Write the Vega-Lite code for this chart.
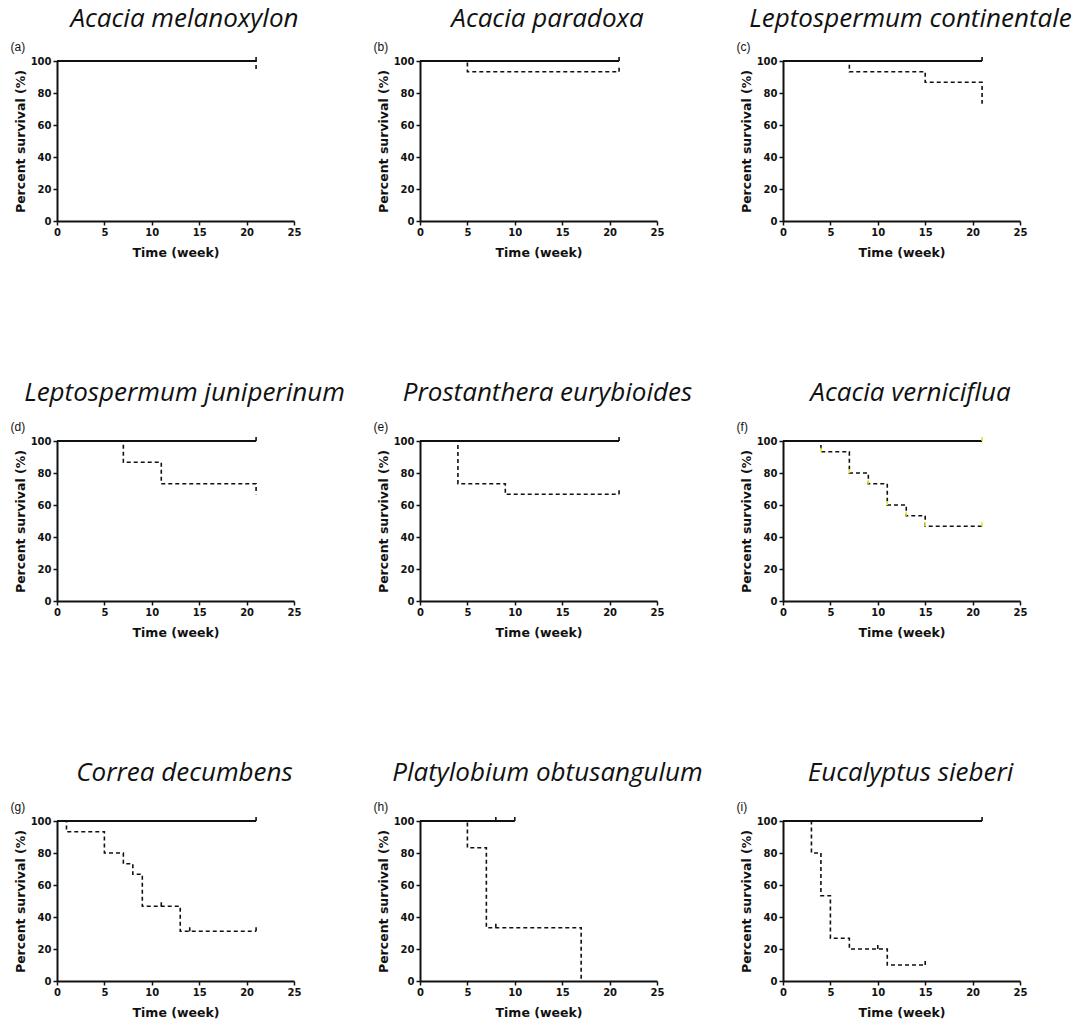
{
  "$schema": "https://vega.github.io/schema/vega-lite/v6.json",
  "background": "white",
  "padding": {"left": 10, "top": 5, "right": 5, "bottom": 5},
  "datasets": {
    "curves": [
      {"species": "Acacia melanoxylon", "group": "control", "t": 0, "s": 100},
      {"species": "Acacia melanoxylon", "group": "control", "t": 21, "s": 100},
      {"species": "Acacia melanoxylon", "group": "treated", "t": 0, "s": 100},
      {"species": "Acacia melanoxylon", "group": "treated", "t": 21, "s": 93.3},
      {"species": "Acacia paradoxa", "group": "control", "t": 0, "s": 100},
      {"species": "Acacia paradoxa", "group": "control", "t": 21, "s": 100},
      {"species": "Acacia paradoxa", "group": "treated", "t": 0, "s": 100},
      {"species": "Acacia paradoxa", "group": "treated", "t": 5, "s": 93.3},
      {"species": "Acacia paradoxa", "group": "treated", "t": 21, "s": 93.3},
      {"species": "Leptospermum continentale", "group": "control", "t": 0, "s": 100},
      {"species": "Leptospermum continentale", "group": "control", "t": 21, "s": 100},
      {"species": "Leptospermum continentale", "group": "treated", "t": 0, "s": 100},
      {"species": "Leptospermum continentale", "group": "treated", "t": 7, "s": 93.3},
      {"species": "Leptospermum continentale", "group": "treated", "t": 15, "s": 86.7},
      {"species": "Leptospermum continentale", "group": "treated", "t": 21, "s": 73.3},
      {"species": "Leptospermum juniperinum", "group": "control", "t": 0, "s": 100},
      {"species": "Leptospermum juniperinum", "group": "control", "t": 21, "s": 100},
      {"species": "Leptospermum juniperinum", "group": "treated", "t": 0, "s": 100},
      {"species": "Leptospermum juniperinum", "group": "treated", "t": 7, "s": 86.7},
      {"species": "Leptospermum juniperinum", "group": "treated", "t": 11, "s": 73.3},
      {"species": "Leptospermum juniperinum", "group": "treated", "t": 21, "s": 66.7},
      {"species": "Prostanthera eurybioides", "group": "control", "t": 0, "s": 100},
      {"species": "Prostanthera eurybioides", "group": "control", "t": 21, "s": 100},
      {"species": "Prostanthera eurybioides", "group": "treated", "t": 0, "s": 100},
      {"species": "Prostanthera eurybioides", "group": "treated", "t": 4, "s": 73.3},
      {"species": "Prostanthera eurybioides", "group": "treated", "t": 9, "s": 66.7},
      {"species": "Prostanthera eurybioides", "group": "treated", "t": 21, "s": 66.7},
      {"species": "Acacia verniciflua", "group": "control", "t": 0, "s": 100},
      {"species": "Acacia verniciflua", "group": "control", "t": 21, "s": 100},
      {"species": "Acacia verniciflua", "group": "treated", "t": 0, "s": 100},
      {"species": "Acacia verniciflua", "group": "treated", "t": 4, "s": 93.3},
      {"species": "Acacia verniciflua", "group": "treated", "t": 7, "s": 80},
      {"species": "Acacia verniciflua", "group": "treated", "t": 9, "s": 73.3},
      {"species": "Acacia verniciflua", "group": "treated", "t": 11, "s": 60},
      {"species": "Acacia verniciflua", "group": "treated", "t": 13, "s": 53.3},
      {"species": "Acacia verniciflua", "group": "treated", "t": 15, "s": 46.7},
      {"species": "Acacia verniciflua", "group": "treated", "t": 21, "s": 46.7},
      {"species": "Correa decumbens", "group": "control", "t": 0, "s": 100},
      {"species": "Correa decumbens", "group": "control", "t": 21, "s": 100},
      {"species": "Correa decumbens", "group": "treated", "t": 0, "s": 100},
      {"species": "Correa decumbens", "group": "treated", "t": 1, "s": 93.3},
      {"species": "Correa decumbens", "group": "treated", "t": 5, "s": 80},
      {"species": "Correa decumbens", "group": "treated", "t": 7, "s": 73.3},
      {"species": "Correa decumbens", "group": "treated", "t": 8, "s": 66.7},
      {"species": "Correa decumbens", "group": "treated", "t": 9, "s": 46.7},
      {"species": "Correa decumbens", "group": "treated", "t": 13, "s": 31.1},
      {"species": "Correa decumbens", "group": "treated", "t": 21, "s": 31.1},
      {"species": "Platylobium obtusangulum", "group": "control", "t": 0, "s": 100},
      {"species": "Platylobium obtusangulum", "group": "control", "t": 10, "s": 100},
      {"species": "Platylobium obtusangulum", "group": "treated", "t": 0, "s": 100},
      {"species": "Platylobium obtusangulum", "group": "treated", "t": 5, "s": 83.3},
      {"species": "Platylobium obtusangulum", "group": "treated", "t": 7, "s": 33.3},
      {"species": "Platylobium obtusangulum", "group": "treated", "t": 17, "s": 0},
      {"species": "Eucalyptus sieberi", "group": "control", "t": 0, "s": 100},
      {"species": "Eucalyptus sieberi", "group": "control", "t": 21, "s": 100},
      {"species": "Eucalyptus sieberi", "group": "treated", "t": 0, "s": 100},
      {"species": "Eucalyptus sieberi", "group": "treated", "t": 3, "s": 80},
      {"species": "Eucalyptus sieberi", "group": "treated", "t": 4, "s": 53.3},
      {"species": "Eucalyptus sieberi", "group": "treated", "t": 5, "s": 26.7},
      {"species": "Eucalyptus sieberi", "group": "treated", "t": 7, "s": 20},
      {"species": "Eucalyptus sieberi", "group": "treated", "t": 11, "s": 10},
      {"species": "Eucalyptus sieberi", "group": "treated", "t": 15, "s": 10}
    ],
    "censors": [
      {"species": "Acacia melanoxylon", "group": "control", "t": 21, "s": 100},
      {"species": "Acacia paradoxa", "group": "control", "t": 21, "s": 100},
      {"species": "Acacia paradoxa", "group": "treated", "t": 21, "s": 93.3},
      {"species": "Leptospermum continentale", "group": "control", "t": 21, "s": 100},
      {"species": "Leptospermum juniperinum", "group": "control", "t": 21, "s": 100},
      {"species": "Prostanthera eurybioides", "group": "control", "t": 21, "s": 100},
      {"species": "Prostanthera eurybioides", "group": "treated", "t": 21, "s": 66.7},
      {"species": "Acacia verniciflua", "group": "highlight", "t": 21, "s": 100},
      {"species": "Acacia verniciflua", "group": "highlight", "t": 4, "s": 93.3},
      {"species": "Acacia verniciflua", "group": "highlight", "t": 7, "s": 80},
      {"species": "Acacia verniciflua", "group": "highlight", "t": 9, "s": 73.3},
      {"species": "Acacia verniciflua", "group": "highlight", "t": 11, "s": 60},
      {"species": "Acacia verniciflua", "group": "highlight", "t": 13, "s": 53.3},
      {"species": "Acacia verniciflua", "group": "highlight", "t": 15, "s": 46.7},
      {"species": "Acacia verniciflua", "group": "highlight", "t": 21, "s": 46.7},
      {"species": "Correa decumbens", "group": "control", "t": 21, "s": 100},
      {"species": "Correa decumbens", "group": "treated", "t": 11, "s": 46.7},
      {"species": "Correa decumbens", "group": "treated", "t": 14, "s": 31.1},
      {"species": "Correa decumbens", "group": "treated", "t": 21, "s": 31.1},
      {"species": "Platylobium obtusangulum", "group": "control", "t": 8, "s": 100},
      {"species": "Platylobium obtusangulum", "group": "control", "t": 10, "s": 100},
      {"species": "Platylobium obtusangulum", "group": "treated", "t": 8, "s": 33.3},
      {"species": "Eucalyptus sieberi", "group": "control", "t": 21, "s": 100},
      {"species": "Eucalyptus sieberi", "group": "treated", "t": 10, "s": 20},
      {"species": "Eucalyptus sieberi", "group": "treated", "t": 15, "s": 10}
    ],
    "labels": [
      {"species": "Acacia melanoxylon", "letter": "(a)"},
      {"species": "Acacia paradoxa", "letter": "(b)"},
      {"species": "Leptospermum continentale", "letter": "(c)"},
      {"species": "Leptospermum juniperinum", "letter": "(d)"},
      {"species": "Prostanthera eurybioides", "letter": "(e)"},
      {"species": "Acacia verniciflua", "letter": "(f)"},
      {"species": "Correa decumbens", "letter": "(g)"},
      {"species": "Platylobium obtusangulum", "letter": "(h)"},
      {"species": "Eucalyptus sieberi", "letter": "(i)"}
    ]
  },
  "columns": 3,
  "bounds": "flush",
  "spacing": {"row": 220, "column": 126},
  "concat": [
    {"title": {"text": "Acacia melanoxylon", "offset": 9}, "width": 237, "height": 160,
     "layer": [
      {"encoding": {"x": {"field": "t", "type": "quantitative", "title": "Time (week)", "scale": {"domain": [0, 25], "nice": false}, "axis": {"values": [0, 5, 10, 15, 20, 25]}}, "y": {"field": "s", "type": "quantitative", "title": "Percent survival (%)", "scale": {"domain": [0, 100], "nice": false}, "axis": {"values": [0, 20, 40, 60, 80, 100]}}},
       "layer": [
        {"data": {"name": "curves"}, "transform": [{"filter": "datum.species === 'Acacia melanoxylon' && datum.group === 'control'"}], "mark": {"type": "line", "interpolate": "step-after", "color": "#111111", "strokeWidth": 2}},
        {"data": {"name": "curves"}, "transform": [{"filter": "datum.species === 'Acacia melanoxylon' && datum.group === 'treated'"}], "mark": {"type": "line", "interpolate": "step-after", "color": "#111111", "strokeWidth": 1.6, "strokeDash": [4, 3]}},
        {"data": {"name": "censors"}, "transform": [{"filter": "datum.species === 'Acacia melanoxylon'"}], "mark": {"type": "point", "shape": "M0,0L0,-1", "size": 64, "filled": false, "strokeWidth": 1.6, "opacity": 1}, "encoding": {"color": {"field": "group", "type": "nominal", "scale": {"domain": ["control", "treated", "highlight"], "range": ["#111111", "#111111", "#ece21a"]}, "legend": null}}}
       ]},
      {"data": {"name": "labels"}, "transform": [{"filter": "datum.species === 'Acacia melanoxylon'"}], "mark": {"type": "text", "align": "left", "baseline": "middle", "font": "Liberation Sans", "fontSize": 12, "color": "#111111"}, "encoding": {"x": {"datum": -4.9, "title": "Time (week)", "scale": {"domain": [0, 25], "nice": false}, "axis": {"values": [0, 5, 10, 15, 20, 25]}}, "y": {"datum": 109, "title": "Percent survival (%)", "scale": {"domain": [0, 100], "nice": false}, "axis": {"values": [0, 20, 40, 60, 80, 100]}}, "text": {"field": "letter"}}}
     ]},
    {"title": {"text": "Acacia paradoxa", "offset": 9}, "width": 237, "height": 160,
     "layer": [
      {"encoding": {"x": {"field": "t", "type": "quantitative", "title": "Time (week)", "scale": {"domain": [0, 25], "nice": false}, "axis": {"values": [0, 5, 10, 15, 20, 25]}}, "y": {"field": "s", "type": "quantitative", "title": "Percent survival (%)", "scale": {"domain": [0, 100], "nice": false}, "axis": {"values": [0, 20, 40, 60, 80, 100]}}},
       "layer": [
        {"data": {"name": "curves"}, "transform": [{"filter": "datum.species === 'Acacia paradoxa' && datum.group === 'control'"}], "mark": {"type": "line", "interpolate": "step-after", "color": "#111111", "strokeWidth": 2}},
        {"data": {"name": "curves"}, "transform": [{"filter": "datum.species === 'Acacia paradoxa' && datum.group === 'treated'"}], "mark": {"type": "line", "interpolate": "step-after", "color": "#111111", "strokeWidth": 1.6, "strokeDash": [4, 3]}},
        {"data": {"name": "censors"}, "transform": [{"filter": "datum.species === 'Acacia paradoxa'"}], "mark": {"type": "point", "shape": "M0,0L0,-1", "size": 64, "filled": false, "strokeWidth": 1.6, "opacity": 1}, "encoding": {"color": {"field": "group", "type": "nominal", "scale": {"domain": ["control", "treated", "highlight"], "range": ["#111111", "#111111", "#ece21a"]}, "legend": null}}}
       ]},
      {"data": {"name": "labels"}, "transform": [{"filter": "datum.species === 'Acacia paradoxa'"}], "mark": {"type": "text", "align": "left", "baseline": "middle", "font": "Liberation Sans", "fontSize": 12, "color": "#111111"}, "encoding": {"x": {"datum": -4.9, "title": "Time (week)", "scale": {"domain": [0, 25], "nice": false}, "axis": {"values": [0, 5, 10, 15, 20, 25]}}, "y": {"datum": 109, "title": "Percent survival (%)", "scale": {"domain": [0, 100], "nice": false}, "axis": {"values": [0, 20, 40, 60, 80, 100]}}, "text": {"field": "letter"}}}
     ]},
    {"title": {"text": "Leptospermum continentale", "offset": 9}, "width": 237, "height": 160,
     "layer": [
      {"encoding": {"x": {"field": "t", "type": "quantitative", "title": "Time (week)", "scale": {"domain": [0, 25], "nice": false}, "axis": {"values": [0, 5, 10, 15, 20, 25]}}, "y": {"field": "s", "type": "quantitative", "title": "Percent survival (%)", "scale": {"domain": [0, 100], "nice": false}, "axis": {"values": [0, 20, 40, 60, 80, 100]}}},
       "layer": [
        {"data": {"name": "curves"}, "transform": [{"filter": "datum.species === 'Leptospermum continentale' && datum.group === 'control'"}], "mark": {"type": "line", "interpolate": "step-after", "color": "#111111", "strokeWidth": 2}},
        {"data": {"name": "curves"}, "transform": [{"filter": "datum.species === 'Leptospermum continentale' && datum.group === 'treated'"}], "mark": {"type": "line", "interpolate": "step-after", "color": "#111111", "strokeWidth": 1.6, "strokeDash": [4, 3]}},
        {"data": {"name": "censors"}, "transform": [{"filter": "datum.species === 'Leptospermum continentale'"}], "mark": {"type": "point", "shape": "M0,0L0,-1", "size": 64, "filled": false, "strokeWidth": 1.6, "opacity": 1}, "encoding": {"color": {"field": "group", "type": "nominal", "scale": {"domain": ["control", "treated", "highlight"], "range": ["#111111", "#111111", "#ece21a"]}, "legend": null}}}
       ]},
      {"data": {"name": "labels"}, "transform": [{"filter": "datum.species === 'Leptospermum continentale'"}], "mark": {"type": "text", "align": "left", "baseline": "middle", "font": "Liberation Sans", "fontSize": 12, "color": "#111111"}, "encoding": {"x": {"datum": -4.9, "title": "Time (week)", "scale": {"domain": [0, 25], "nice": false}, "axis": {"values": [0, 5, 10, 15, 20, 25]}}, "y": {"datum": 109, "title": "Percent survival (%)", "scale": {"domain": [0, 100], "nice": false}, "axis": {"values": [0, 20, 40, 60, 80, 100]}}, "text": {"field": "letter"}}}
     ]},
    {"title": {"text": "Leptospermum juniperinum", "offset": 15}, "width": 237, "height": 160,
     "layer": [
      {"encoding": {"x": {"field": "t", "type": "quantitative", "title": "Time (week)", "scale": {"domain": [0, 25], "nice": false}, "axis": {"values": [0, 5, 10, 15, 20, 25]}}, "y": {"field": "s", "type": "quantitative", "title": "Percent survival (%)", "scale": {"domain": [0, 100], "nice": false}, "axis": {"values": [0, 20, 40, 60, 80, 100]}}},
       "layer": [
        {"data": {"name": "curves"}, "transform": [{"filter": "datum.species === 'Leptospermum juniperinum' && datum.group === 'control'"}], "mark": {"type": "line", "interpolate": "step-after", "color": "#111111", "strokeWidth": 2}},
        {"data": {"name": "curves"}, "transform": [{"filter": "datum.species === 'Leptospermum juniperinum' && datum.group === 'treated'"}], "mark": {"type": "line", "interpolate": "step-after", "color": "#111111", "strokeWidth": 1.6, "strokeDash": [4, 3]}},
        {"data": {"name": "censors"}, "transform": [{"filter": "datum.species === 'Leptospermum juniperinum'"}], "mark": {"type": "point", "shape": "M0,0L0,-1", "size": 64, "filled": false, "strokeWidth": 1.6, "opacity": 1}, "encoding": {"color": {"field": "group", "type": "nominal", "scale": {"domain": ["control", "treated", "highlight"], "range": ["#111111", "#111111", "#ece21a"]}, "legend": null}}}
       ]},
      {"data": {"name": "labels"}, "transform": [{"filter": "datum.species === 'Leptospermum juniperinum'"}], "mark": {"type": "text", "align": "left", "baseline": "middle", "font": "Liberation Sans", "fontSize": 12, "color": "#111111"}, "encoding": {"x": {"datum": -4.9, "title": "Time (week)", "scale": {"domain": [0, 25], "nice": false}, "axis": {"values": [0, 5, 10, 15, 20, 25]}}, "y": {"datum": 109, "title": "Percent survival (%)", "scale": {"domain": [0, 100], "nice": false}, "axis": {"values": [0, 20, 40, 60, 80, 100]}}, "text": {"field": "letter"}}}
     ]},
    {"title": {"text": "Prostanthera eurybioides", "offset": 15}, "width": 237, "height": 160,
     "layer": [
      {"encoding": {"x": {"field": "t", "type": "quantitative", "title": "Time (week)", "scale": {"domain": [0, 25], "nice": false}, "axis": {"values": [0, 5, 10, 15, 20, 25]}}, "y": {"field": "s", "type": "quantitative", "title": "Percent survival (%)", "scale": {"domain": [0, 100], "nice": false}, "axis": {"values": [0, 20, 40, 60, 80, 100]}}},
       "layer": [
        {"data": {"name": "curves"}, "transform": [{"filter": "datum.species === 'Prostanthera eurybioides' && datum.group === 'control'"}], "mark": {"type": "line", "interpolate": "step-after", "color": "#111111", "strokeWidth": 2}},
        {"data": {"name": "curves"}, "transform": [{"filter": "datum.species === 'Prostanthera eurybioides' && datum.group === 'treated'"}], "mark": {"type": "line", "interpolate": "step-after", "color": "#111111", "strokeWidth": 1.6, "strokeDash": [4, 3]}},
        {"data": {"name": "censors"}, "transform": [{"filter": "datum.species === 'Prostanthera eurybioides'"}], "mark": {"type": "point", "shape": "M0,0L0,-1", "size": 64, "filled": false, "strokeWidth": 1.6, "opacity": 1}, "encoding": {"color": {"field": "group", "type": "nominal", "scale": {"domain": ["control", "treated", "highlight"], "range": ["#111111", "#111111", "#ece21a"]}, "legend": null}}}
       ]},
      {"data": {"name": "labels"}, "transform": [{"filter": "datum.species === 'Prostanthera eurybioides'"}], "mark": {"type": "text", "align": "left", "baseline": "middle", "font": "Liberation Sans", "fontSize": 12, "color": "#111111"}, "encoding": {"x": {"datum": -4.9, "title": "Time (week)", "scale": {"domain": [0, 25], "nice": false}, "axis": {"values": [0, 5, 10, 15, 20, 25]}}, "y": {"datum": 109, "title": "Percent survival (%)", "scale": {"domain": [0, 100], "nice": false}, "axis": {"values": [0, 20, 40, 60, 80, 100]}}, "text": {"field": "letter"}}}
     ]},
    {"title": {"text": "Acacia verniciflua", "offset": 15}, "width": 237, "height": 160,
     "layer": [
      {"encoding": {"x": {"field": "t", "type": "quantitative", "title": "Time (week)", "scale": {"domain": [0, 25], "nice": false}, "axis": {"values": [0, 5, 10, 15, 20, 25]}}, "y": {"field": "s", "type": "quantitative", "title": "Percent survival (%)", "scale": {"domain": [0, 100], "nice": false}, "axis": {"values": [0, 20, 40, 60, 80, 100]}}},
       "layer": [
        {"data": {"name": "curves"}, "transform": [{"filter": "datum.species === 'Acacia verniciflua' && datum.group === 'control'"}], "mark": {"type": "line", "interpolate": "step-after", "color": "#111111", "strokeWidth": 2}},
        {"data": {"name": "curves"}, "transform": [{"filter": "datum.species === 'Acacia verniciflua' && datum.group === 'treated'"}], "mark": {"type": "line", "interpolate": "step-after", "color": "#111111", "strokeWidth": 1.6, "strokeDash": [4, 3]}},
        {"data": {"name": "censors"}, "transform": [{"filter": "datum.species === 'Acacia verniciflua'"}], "mark": {"type": "point", "shape": "M0,0L0,-1", "size": 64, "filled": false, "strokeWidth": 1.6, "opacity": 1}, "encoding": {"color": {"field": "group", "type": "nominal", "scale": {"domain": ["control", "treated", "highlight"], "range": ["#111111", "#111111", "#ece21a"]}, "legend": null}}}
       ]},
      {"data": {"name": "labels"}, "transform": [{"filter": "datum.species === 'Acacia verniciflua'"}], "mark": {"type": "text", "align": "left", "baseline": "middle", "font": "Liberation Sans", "fontSize": 12, "color": "#111111"}, "encoding": {"x": {"datum": -4.9, "title": "Time (week)", "scale": {"domain": [0, 25], "nice": false}, "axis": {"values": [0, 5, 10, 15, 20, 25]}}, "y": {"datum": 109, "title": "Percent survival (%)", "scale": {"domain": [0, 100], "nice": false}, "axis": {"values": [0, 20, 40, 60, 80, 100]}}, "text": {"field": "letter"}}}
     ]},
    {"title": {"text": "Correa decumbens", "offset": 15}, "width": 237, "height": 160,
     "layer": [
      {"encoding": {"x": {"field": "t", "type": "quantitative", "title": "Time (week)", "scale": {"domain": [0, 25], "nice": false}, "axis": {"values": [0, 5, 10, 15, 20, 25]}}, "y": {"field": "s", "type": "quantitative", "title": "Percent survival (%)", "scale": {"domain": [0, 100], "nice": false}, "axis": {"values": [0, 20, 40, 60, 80, 100]}}},
       "layer": [
        {"data": {"name": "curves"}, "transform": [{"filter": "datum.species === 'Correa decumbens' && datum.group === 'control'"}], "mark": {"type": "line", "interpolate": "step-after", "color": "#111111", "strokeWidth": 2}},
        {"data": {"name": "curves"}, "transform": [{"filter": "datum.species === 'Correa decumbens' && datum.group === 'treated'"}], "mark": {"type": "line", "interpolate": "step-after", "color": "#111111", "strokeWidth": 1.6, "strokeDash": [4, 3]}},
        {"data": {"name": "censors"}, "transform": [{"filter": "datum.species === 'Correa decumbens'"}], "mark": {"type": "point", "shape": "M0,0L0,-1", "size": 64, "filled": false, "strokeWidth": 1.6, "opacity": 1}, "encoding": {"color": {"field": "group", "type": "nominal", "scale": {"domain": ["control", "treated", "highlight"], "range": ["#111111", "#111111", "#ece21a"]}, "legend": null}}}
       ]},
      {"data": {"name": "labels"}, "transform": [{"filter": "datum.species === 'Correa decumbens'"}], "mark": {"type": "text", "align": "left", "baseline": "middle", "font": "Liberation Sans", "fontSize": 12, "color": "#111111"}, "encoding": {"x": {"datum": -4.9, "title": "Time (week)", "scale": {"domain": [0, 25], "nice": false}, "axis": {"values": [0, 5, 10, 15, 20, 25]}}, "y": {"datum": 109, "title": "Percent survival (%)", "scale": {"domain": [0, 100], "nice": false}, "axis": {"values": [0, 20, 40, 60, 80, 100]}}, "text": {"field": "letter"}}}
     ]},
    {"title": {"text": "Platylobium obtusangulum", "offset": 15}, "width": 237, "height": 160,
     "layer": [
      {"encoding": {"x": {"field": "t", "type": "quantitative", "title": "Time (week)", "scale": {"domain": [0, 25], "nice": false}, "axis": {"values": [0, 5, 10, 15, 20, 25]}}, "y": {"field": "s", "type": "quantitative", "title": "Percent survival (%)", "scale": {"domain": [0, 100], "nice": false}, "axis": {"values": [0, 20, 40, 60, 80, 100]}}},
       "layer": [
        {"data": {"name": "curves"}, "transform": [{"filter": "datum.species === 'Platylobium obtusangulum' && datum.group === 'control'"}], "mark": {"type": "line", "interpolate": "step-after", "color": "#111111", "strokeWidth": 2}},
        {"data": {"name": "curves"}, "transform": [{"filter": "datum.species === 'Platylobium obtusangulum' && datum.group === 'treated'"}], "mark": {"type": "line", "interpolate": "step-after", "color": "#111111", "strokeWidth": 1.6, "strokeDash": [4, 3]}},
        {"data": {"name": "censors"}, "transform": [{"filter": "datum.species === 'Platylobium obtusangulum'"}], "mark": {"type": "point", "shape": "M0,0L0,-1", "size": 64, "filled": false, "strokeWidth": 1.6, "opacity": 1}, "encoding": {"color": {"field": "group", "type": "nominal", "scale": {"domain": ["control", "treated", "highlight"], "range": ["#111111", "#111111", "#ece21a"]}, "legend": null}}}
       ]},
      {"data": {"name": "labels"}, "transform": [{"filter": "datum.species === 'Platylobium obtusangulum'"}], "mark": {"type": "text", "align": "left", "baseline": "middle", "font": "Liberation Sans", "fontSize": 12, "color": "#111111"}, "encoding": {"x": {"datum": -4.9, "title": "Time (week)", "scale": {"domain": [0, 25], "nice": false}, "axis": {"values": [0, 5, 10, 15, 20, 25]}}, "y": {"datum": 109, "title": "Percent survival (%)", "scale": {"domain": [0, 100], "nice": false}, "axis": {"values": [0, 20, 40, 60, 80, 100]}}, "text": {"field": "letter"}}}
     ]},
    {"title": {"text": "Eucalyptus sieberi", "offset": 15}, "width": 237, "height": 160,
     "layer": [
      {"encoding": {"x": {"field": "t", "type": "quantitative", "title": "Time (week)", "scale": {"domain": [0, 25], "nice": false}, "axis": {"values": [0, 5, 10, 15, 20, 25]}}, "y": {"field": "s", "type": "quantitative", "title": "Percent survival (%)", "scale": {"domain": [0, 100], "nice": false}, "axis": {"values": [0, 20, 40, 60, 80, 100]}}},
       "layer": [
        {"data": {"name": "curves"}, "transform": [{"filter": "datum.species === 'Eucalyptus sieberi' && datum.group === 'control'"}], "mark": {"type": "line", "interpolate": "step-after", "color": "#111111", "strokeWidth": 2}},
        {"data": {"name": "curves"}, "transform": [{"filter": "datum.species === 'Eucalyptus sieberi' && datum.group === 'treated'"}], "mark": {"type": "line", "interpolate": "step-after", "color": "#111111", "strokeWidth": 1.6, "strokeDash": [4, 3]}},
        {"data": {"name": "censors"}, "transform": [{"filter": "datum.species === 'Eucalyptus sieberi'"}], "mark": {"type": "point", "shape": "M0,0L0,-1", "size": 64, "filled": false, "strokeWidth": 1.6, "opacity": 1}, "encoding": {"color": {"field": "group", "type": "nominal", "scale": {"domain": ["control", "treated", "highlight"], "range": ["#111111", "#111111", "#ece21a"]}, "legend": null}}}
       ]},
      {"data": {"name": "labels"}, "transform": [{"filter": "datum.species === 'Eucalyptus sieberi'"}], "mark": {"type": "text", "align": "left", "baseline": "middle", "font": "Liberation Sans", "fontSize": 12, "color": "#111111"}, "encoding": {"x": {"datum": -4.9, "title": "Time (week)", "scale": {"domain": [0, 25], "nice": false}, "axis": {"values": [0, 5, 10, 15, 20, 25]}}, "y": {"datum": 109, "title": "Percent survival (%)", "scale": {"domain": [0, 100], "nice": false}, "axis": {"values": [0, 20, 40, 60, 80, 100]}}, "text": {"field": "letter"}}}
     ]}
  ],
  "config": {
    "view": {"stroke": null},
    "title": {"font": "Open Sans", "fontStyle": "italic", "fontWeight": "normal", "fontSize": 26, "color": "#111111", "anchor": "middle", "frame": "group", "dx": 9},
    "axis": {
      "grid": false,
      "domainColor": "#111111",
      "domainWidth": 2,
      "tickColor": "#111111",
      "tickWidth": 1.5,
      "tickSize": 4,
      "labelFont": "DejaVu Sans",
      "labelFontWeight": "bold",
      "labelFontSize": 10,
      "labelColor": "#111111",
      "labelPadding": 2,
      "labelFlush": false,
      "labelOverlap": false,
      "titleFont": "DejaVu Sans",
      "titleFontWeight": "bold",
      "titleFontSize": 12.5,
      "titleColor": "#111111"
    },
    "axisX": {"titlePadding": 9},
    "axisY": {"titlePadding": 3}
  }
}
